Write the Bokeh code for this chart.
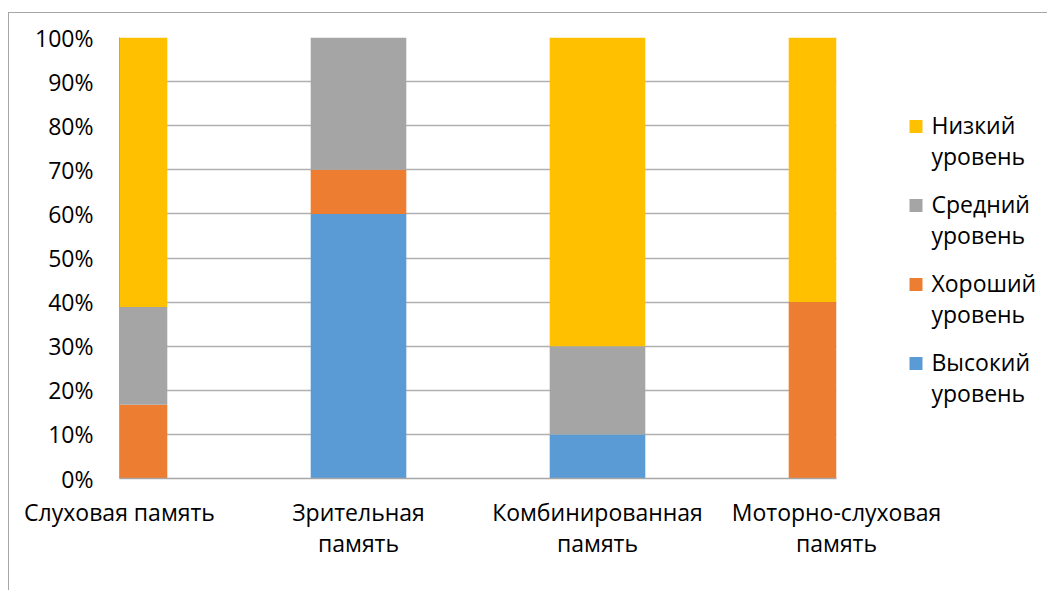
from bokeh.plotting import figure
from bokeh.layouts import row
from bokeh.models import Range1d, FixedTicker, PrintfTickFormatter
from bokeh.core.properties import value
from bokeh.embed import file_html
from bokeh.resources import INLINE

# ---- data ----
categories = ["Слуховая память", "Зрительная память", "Комбинированная память", "Моторно-слуховая память"]
tick_labels = ["Слуховая память", "Зрительная\nпамять", "Комбинированная\nпамять", "Моторно-слуховая\nпамять"]
series_names = ["Высокий уровень", "Хороший уровень", "Средний уровень", "Низкий уровень"]
legend_labels = ["Высокий\nуровень", "Хороший\nуровень", "Средний\nуровень", "Низкий\nуровень"]
vysokiy = [0, 60, 10, 0]
khoroshiy = [16.7, 10, 0, 40]
sredniy = [22.2, 30, 20, 0]
nizkiy = [61.1, 0, 70, 60]
y_ticks = [0, 10, 20, 30, 40, 50, 60, 70, 80, 90, 100]
colors = ["#5B9BD5", "#ED7D31", "#A5A5A5", "#FFC000"]

FONT = "Open Sans"
FS = "23px"
H = 577

xs = list(range(len(categories)))
source = dict(x=xs, v=vysokiy, k=khoroshiy, s=sredniy, n=nizkiy)

p = figure(width=942, height=H, output_backend="svg", toolbar_location=None,
           x_range=Range1d(0, len(categories) - 1), y_range=Range1d(0, 100),
           min_border_left=110, min_border_top=24, min_border_bottom=112, min_border_right=115)

renderers = p.vbar_stack(["v", "k", "s", "n"], x="x", width=0.4, color=colors, source=source,
                         line_color=None)

p.outline_line_color = None
p.background_fill_color = "white"
p.border_fill_color = "white"

# x axis
p.xaxis.ticker = FixedTicker(ticks=xs)
p.xaxis.major_label_overrides = {i: t for i, t in enumerate(tick_labels)}
p.xaxis.major_tick_line_color = None
p.xaxis.minor_tick_line_color = None
p.xaxis.axis_line_color = "#a6a6a6"
p.xaxis.axis_line_width = 1.5
p.xaxis.major_label_text_font = FONT
p.xaxis.major_label_text_font_size = FS
p.xaxis.major_label_text_color = "black"
p.xaxis.major_label_standoff = 11
p.xaxis.major_label_text_line_height = 0.97

# y axis
p.yaxis.ticker = FixedTicker(ticks=y_ticks)
p.yaxis.formatter = PrintfTickFormatter(format="%d%%")
p.yaxis.major_tick_line_color = None
p.yaxis.minor_tick_line_color = None
p.yaxis.axis_line_color = "#a6a6a6"
p.yaxis.major_label_text_font = FONT
p.yaxis.major_label_text_font_size = FS
p.yaxis.major_label_text_color = "black"
p.yaxis.major_label_standoff = 20

p.xgrid.grid_line_color = None
p.ygrid.grid_line_color = "#b0b0b0"
p.ygrid.grid_line_width = 1.5

# ---- legend panel (its frame is aligned with the main frame; y in page-like px, downward) ----
LW = 152
lg = figure(width=LW, height=H, output_backend="svg", toolbar_location=None,
            x_range=Range1d(0, LW), y_range=Range1d(478, 37),
            min_border=0, margin=(0, 0, 0, -56))
lg.axis.visible = False
lg.grid.visible = False
lg.outline_line_color = None
lg.background_fill_alpha = 0
lg.border_fill_alpha = 0

order = [3, 2, 1, 0]  # top to bottom: Низкий, Средний, Хороший, Высокий
first_y, stride = 126, 79
leg = dict(
    y=[first_y + k * stride for k in range(len(order))],
    label=[legend_labels[i] for i in order],
    color=[colors[i] for i in order],
)
leg["ty"] = [yy - 18 for yy in leg["y"]]
lg.rect(x=20.5, y="y", width=13, height=13, width_units="screen", height_units="screen",
        fill_color="color", line_color=None, source=leg)
lg.text(x=36, y="ty", text="label", text_font=value(FONT), text_font_size=FS,
        text_color="black", text_baseline="top", text_align="left",
        text_line_height=0.99, source=leg)

layout = row(p, lg, styles={"border-top": "1px solid #a6a6a6", "border-left": "1px solid #a6a6a6",
                            "margin-top": "12px", "margin-left": "8px"})

open("out.html", "w").write(file_html(layout, INLINE))
